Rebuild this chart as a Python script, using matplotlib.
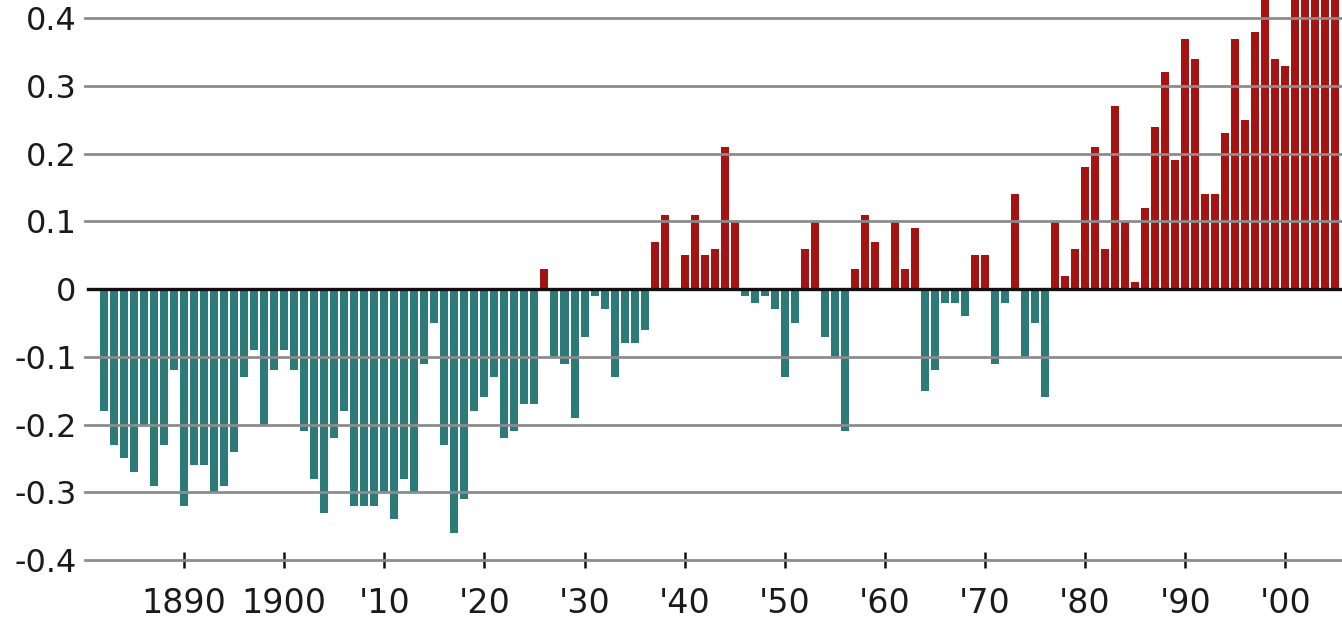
import matplotlib
matplotlib.use("Agg")
import matplotlib.pyplot as plt

# ---- data (temperature anomaly, deg C) ----
years = list(range(1882, 2006))
anomaly = [
    # 1882-1889
    -0.18, -0.23, -0.25, -0.27, -0.20, -0.29, -0.23, -0.12,
    # 1890-1899
    -0.32, -0.26, -0.26, -0.30, -0.29, -0.24, -0.13, -0.09, -0.20, -0.12,
    # 1900-1909
    -0.09, -0.12, -0.21, -0.28, -0.33, -0.22, -0.18, -0.32, -0.32, -0.32,
    # 1910-1919
    -0.30, -0.34, -0.28, -0.30, -0.11, -0.05, -0.23, -0.36, -0.31, -0.18,
    # 1920-1929
    -0.16, -0.13, -0.22, -0.21, -0.17, -0.17, 0.03, -0.10, -0.11, -0.19,
    # 1930-1939
    -0.07, -0.01, -0.03, -0.13, -0.08, -0.08, -0.06, 0.07, 0.11, 0.00,
    # 1940-1949
    0.05, 0.11, 0.05, 0.06, 0.21, 0.10, -0.01, -0.02, -0.01, -0.03,
    # 1950-1959
    -0.13, -0.05, 0.06, 0.10, -0.07, -0.10, -0.21, 0.03, 0.11, 0.07,
    # 1960-1969
    0.00, 0.10, 0.03, 0.09, -0.15, -0.12, -0.02, -0.02, -0.04, 0.05,
    # 1970-1979
    0.05, -0.11, -0.02, 0.14, -0.10, -0.05, -0.16, 0.10, 0.02, 0.06,
    # 1980-1989
    0.18, 0.21, 0.06, 0.27, 0.10, 0.01, 0.12, 0.24, 0.32, 0.19,
    # 1990-1999
    0.37, 0.34, 0.14, 0.14, 0.23, 0.37, 0.25, 0.38, 0.57, 0.34,
    # 2000-2005
    0.33, 0.48, 0.56, 0.55, 0.49, 0.63,
]
y_ticks = [-0.4, -0.3, -0.2, -0.1, 0.0, 0.1, 0.2, 0.3, 0.4]
y_tick_labels = ["-0.4", "-0.3", "-0.2", "-0.1", "0", "0.1", "0.2", "0.3", "0.4"]
x_ticks = [1890, 1900, 1910, 1920, 1930, 1940, 1950, 1960, 1970, 1980, 1990, 2000]
x_tick_labels = ["1890", "1900", "'10", "'20", "'30", "'40", "'50", "'60", "'70",
                 "'80", "'90", "'00"]

COOL = "#2c7b78"
WARM = "#a51412"

W, H = 1342, 618
fig = plt.figure(figsize=(W / 100, H / 100), dpi=100)
ax = fig.add_axes([85 / W, (H - 560) / H, 1 - 85 / W, 560 / H])

colors = [WARM if v > 0 else COOL for v in anomaly]
ax.bar(years, anomaly, width=0.8, color=colors, linewidth=0, zorder=1)

for t in y_ticks:
    if t == 0:
        continue
    ax.axhline(t, color="#8c8c8c", linewidth=2.0, zorder=2, clip_on=False)
ax.axhline(0, color="#111111", linewidth=2.4, zorder=3, xmin=3 / (W - 85))

ax.set_xlim(1880.1, 2005.67)
ax.set_ylim(-0.4, 0.427)

for s in ax.spines.values():
    s.set_visible(False)

ax.set_yticks(y_ticks)
ax.set_yticklabels(y_tick_labels, fontsize=23, color="#1a1a1a")
ax.tick_params(axis="y", length=0, pad=6)

ax.set_xticks(x_ticks)
ax.set_xticklabels(x_tick_labels, fontsize=24, color="#1a1a1a")
ax.tick_params(axis="x", direction="inout", length=11, width=1.8,
               color="#111111", pad=14)
for tl in ax.xaxis.get_ticklines():
    tl.set_zorder(4)

fig.savefig("out.png", dpi=100)
